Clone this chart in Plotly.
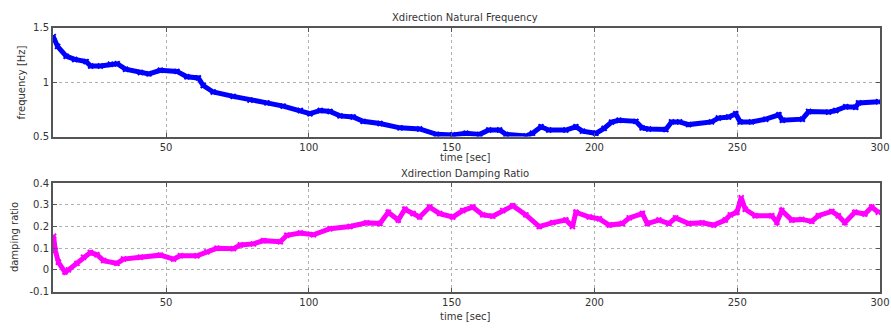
import plotly.graph_objects as go

# Natural frequency (Hz) vs time (sec)
t_freq = [10.5, 12, 15, 18, 22, 23.6, 27, 30.5, 32.9, 35.8, 41, 44, 48, 53.8, 57.3, 61.3, 63,
          66.5, 73.5, 79.4, 85.3, 91, 97, 100.4, 104, 107.4, 110.9, 115.5, 119, 124.9, 131.9,
          138.8, 144.7, 150.4, 155, 159.8, 163, 166.8, 169, 176, 178.3, 181.3, 184, 190, 193.5,
          195.8, 200.5, 203.4, 206, 208.6, 214.5, 216.7, 219, 225, 227, 229.8, 233, 241, 243.4,
          247, 249.5, 251, 255, 260, 264.6, 265.8, 272.8, 275, 282, 284.5, 288, 291.5, 292.5, 299.5]
freq = [1.42, 1.33, 1.24, 1.21, 1.19, 1.15, 1.15, 1.165, 1.17, 1.12, 1.09, 1.077, 1.11, 1.10, 1.05,
        1.04, 0.97, 0.91, 0.87, 0.835, 0.81, 0.78, 0.74, 0.71, 0.74, 0.73, 0.69, 0.68, 0.64, 0.62,
        0.58, 0.57, 0.52, 0.515, 0.53, 0.52, 0.56, 0.56, 0.52, 0.505, 0.53, 0.59, 0.56, 0.56, 0.59,
        0.55, 0.53, 0.575, 0.633, 0.65, 0.64, 0.58, 0.57, 0.565, 0.635, 0.635, 0.61, 0.635, 0.67,
        0.68, 0.71, 0.635, 0.635, 0.66, 0.70, 0.65, 0.66, 0.73, 0.725, 0.74, 0.775, 0.77, 0.81, 0.82]

# Damping ratio vs time (sec)
t_damp = [10.6, 11.2, 12.3, 14.6, 15.8, 18.8, 21.1, 23.5, 25.8, 28.1, 32.8, 35.1, 41, 48, 52.6, 55,
          60.8, 64.3, 67.8, 73.6, 76, 80.6, 84.1, 90, 92.3, 97, 101.6, 107.4, 114.4, 120.2, 124.9,
          127.8, 131.3, 133.6, 136.5, 138.8, 142.3, 145.8, 150.4, 153.9, 157.4, 160.9, 164.4, 167.9,
          171.4, 176, 180.7, 185.4, 190, 192.3, 193.5, 198.2, 201.7, 205.2, 209.8, 212.2, 216.8,
          218.5, 222.6, 226.1, 228.4, 233, 237.7, 241.8, 245.8, 247.6, 249.9, 251.4, 252.8, 256.3,
          262.1, 263.9, 265.6, 269.1, 272.6, 276.1, 278.4, 283.1, 285.4, 287.7, 291.2, 294.7, 297.1,
          299.4]
damp = [0.155, 0.09, 0.035, -0.01, 0.0, 0.03, 0.058, 0.08, 0.07, 0.043, 0.03, 0.05, 0.058, 0.068,
        0.05, 0.065, 0.065, 0.083, 0.1, 0.098, 0.115, 0.12, 0.135, 0.13, 0.16, 0.17, 0.162, 0.19,
        0.2, 0.217, 0.214, 0.266, 0.23, 0.28, 0.26, 0.244, 0.29, 0.26, 0.244, 0.274, 0.29, 0.254,
        0.248, 0.274, 0.296, 0.254, 0.2, 0.218, 0.23, 0.2, 0.266, 0.244, 0.236, 0.207, 0.214, 0.24,
        0.26, 0.214, 0.23, 0.214, 0.24, 0.214, 0.217, 0.207, 0.23, 0.254, 0.266, 0.333, 0.28, 0.25,
        0.25, 0.22, 0.274, 0.23, 0.233, 0.224, 0.25, 0.27, 0.25, 0.218, 0.266, 0.258, 0.29, 0.266]

x_ticks = [50, 100, 150, 200, 250, 300]
freq_ticks = [0.5, 1, 1.5]
damp_ticks = [-0.1, 0, 0.1, 0.2, 0.3, 0.4]

W, H = 891, 333
ML, MR = 53, 11
FONT = dict(family="DejaVu Sans", size=10, color="#333333")

fig = go.Figure()
fig.add_trace(go.Scatter(x=t_freq, y=freq, mode="lines+markers",
                         line=dict(color="#0000ff", width=5),
                         marker=dict(color="#0000ff", size=5, symbol="x-thin",
                                     line=dict(color="#0000ff", width=2)),
                         xaxis="x", yaxis="y", showlegend=False))
fig.add_trace(go.Scatter(x=t_damp, y=damp, mode="lines+markers",
                         line=dict(color="#ff00ff", width=5),
                         marker=dict(color="#ff00ff", size=5, symbol="x-thin",
                                     line=dict(color="#ff00ff", width=2)),
                         xaxis="x2", yaxis="y2", showlegend=False))

def py(px):
    return 1 - px / H

def px_x(px):
    return (px - ML) / (W - ML - MR)

axis_common = dict(showline=True, linecolor="#555555", linewidth=2, mirror="ticks",
                   ticks="inside", ticklen=4, tickcolor="#555555",
                   showgrid=True, gridcolor="#b0b0b0", griddash="dot", gridwidth=1,
                   zeroline=False, tickfont=FONT)

fig.update_layout(
    width=W, height=H,
    margin=dict(l=ML, r=MR, t=0, b=0),
    paper_bgcolor="white", plot_bgcolor="white",
    font=FONT,
    xaxis=dict(domain=[0, 1], range=[10.4, 300], tickvals=x_ticks, anchor="y", **axis_common),
    yaxis=dict(domain=[py(135), py(22.7)], range=[0.5, 1.5], tickvals=freq_ticks,
               ticktext=["0.5", "1", "1.5"], anchor="x", **axis_common),
    xaxis2=dict(domain=[0, 1], range=[10.4, 300], tickvals=x_ticks, anchor="y2", **axis_common),
    yaxis2=dict(domain=[py(295.3), py(183.3)], range=[-0.1, 0.4], tickvals=damp_ticks,
                ticktext=["-0.1", "0", "0.1", "0.2", "0.3", "0.4"], anchor="x2", **axis_common),
)

def ann(text, x_px, y_px, angle=0):
    fig.add_annotation(text=text, x=px_x(x_px), y=py(y_px), xref="paper", yref="paper",
                       showarrow=False, font=FONT, textangle=angle,
                       xanchor="center", yanchor="middle")

ann("Xdirection Natural Frequency", 465, 11.5)
ann("time [sec]", 465, 157)
ann("frequency [Hz]", 21, 79, -90)
ann("Xdirection Damping Ratio", 465, 173)
ann("time [sec]", 465, 321)
ann("damping ratio", 14, 239, -90)

fig.write_html("out.html")
